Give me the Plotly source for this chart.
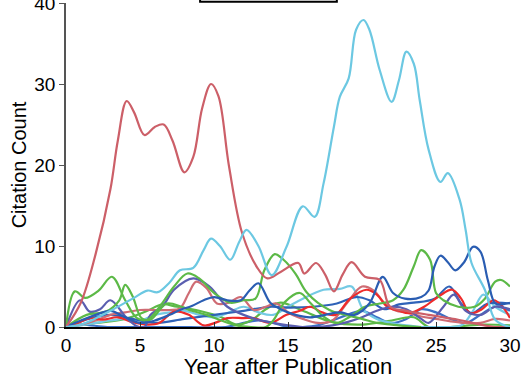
import plotly.graph_objects as go

# Citation counts per year after publication, one curve per paper
years_p01 = [0, 1, 2, 3, 3.5, 4.1, 4.6, 5.3, 6.0, 6.6, 7.2, 8.0, 8.6, 9.2, 9.8, 10.3, 11.0, 11.9, 12.9, 13.6, 14.5, 15.7, 16.1, 16.9, 17.5, 18.1, 18.7, 19.3, 20.2, 21.2, 21.9, 23, 24.5, 26.5, 28, 29, 30]
cites_p01 = [0, 3, 9, 17, 23, 27.9, 26.5, 23.7, 24.7, 25, 23, 19.1, 21, 27, 30, 28.5, 20, 11.6, 7.4, 6.0, 6.8, 7.9, 6.6, 7.9, 6.5, 4.4, 6.5, 8.0, 6.2, 5.8, 2.5, 2.0, 1.5, 0.9, 0.3, 0, 0]

years_p02 = [0, 1, 1.6, 3, 4.5, 5.5, 6.2, 7, 7.7, 8.6, 9.3, 9.8, 10.4, 11.1, 11.7, 12.2, 13, 13.9, 14.9, 16.0, 16.8, 17.4, 18.1, 18.5, 19.1, 19.6, 20.1, 20.5, 21.2, 22.0, 22.5, 23.0, 23.5, 23.9, 24.5, 25.3, 25.8, 26.6, 27.0, 27.4, 28.3, 29, 30]
cites_p02 = [0, 0.3, 0.7, 2.0, 3.5, 4.5, 4.3, 5.5, 7.0, 7.3, 9.5, 10.9, 10, 8.3, 10.5, 12.0, 10, 6.4, 9.9, 14.9, 13.6, 17.7, 24.7, 28.4, 30.7, 36.7, 37.9, 36.7, 31.7, 27.8, 30.5, 34.0, 32.5, 28.0, 21.9, 17.9, 19.0, 15.7, 12, 7.9, 4.6, 0.9, 0]

years_p03 = [0, 0.6, 1.3, 2.2, 3.1, 4.0, 4.8, 5.5, 6.4, 7.3, 8.2, 9.0, 10.0, 11.1, 12.0, 12.8, 13.4, 14.1, 14.7, 15.5, 16.3, 17.8, 18.9, 20.0, 21.0, 22.0, 23.0, 24.0]
cites_p03 = [0, 4.4, 3.6, 4.5, 6.2, 3.3, 1.1, 0.9, 2.7, 5.0, 6.6, 6.0, 4.2, 3.0, 3.3, 3.5, 7.0, 9.0, 8.3, 6.6, 4.2, 2.1, 1.5, 1.0, 0.5, 0.3, 0.1, 0]

years_p04 = [0, 1.4, 2.7, 3.6, 4.0, 4.5, 5.1, 5.7, 6.8, 7.8, 8.5, 9.5, 10.5, 11.5, 12.5, 13.5, 14.0, 14.8, 15.8, 16.5, 17.4, 18.3, 19.2, 20.2, 21.2, 22.1, 22.8, 23.5, 24.0, 24.6, 25.0, 25.5, 26.5, 27.6, 28.3, 29.0, 29.4, 30]
cites_p04 = [0, 1.5, 1.9, 3.3, 5.2, 3.8, 1.1, 0.9, 2.9, 2.5, 2.0, 1.5, 0.8, 0.2, 0, 0, 0.8, 3.1, 4.2, 3.0, 1.3, 0.5, 1.3, 2.5, 2.9, 3.3, 4.6, 7.5, 9.5, 8.3, 4.2, 3.3, 2.5, 2.5, 3.5, 5.6, 5.8, 5.0]

years_p05 = [0, 2, 4, 5.5, 6.5, 7.5, 9, 10.5, 11.5, 12.5, 13.5, 14.5, 16, 18, 20, 22, 23.5, 24.5, 26, 28, 30]
cites_p05 = [0, 0.5, 1, 2, 2.8, 2.5, 2.0, 1.2, 0.3, 0.8, 2.2, 3.0, 2.0, 0.6, 0.3, 0.8, 1.2, 0, 0, 0.3, 0.2]

years_p06 = [0, 0.95, 1.6, 2.3, 3.0, 4.1, 4.8, 5.3, 5.7, 6.5, 7.3, 8.6, 9.7, 10.9, 12.6, 14, 15, 16, 17, 18, 19, 20, 21, 22, 23, 24, 24.5, 25.5, 26.2, 27, 28, 29, 30]
cites_p06 = [0, 3.3, 1.9, 2.2, 3.3, 1.1, 0.1, 0, 1.5, 2.5, 4.6, 6.0, 5.0, 2.5, 1.1, 0.5, 0.2, 0, 0, 0.2, 0.6, 1.2, 2.0, 2.5, 2.2, 1.0, 0.5, 2.5, 4.0, 2.0, 1.5, 2.5, 2.2]

years_p07 = [0, 1, 2, 3, 4, 5, 6, 7, 7.7, 8.5, 9.3, 10, 10.9, 11.8, 12.4, 13.0, 13.8, 14.5, 15.5, 16.5, 17.5, 18.5, 19.5, 20.5, 21.4, 22.1, 22.9, 24.0, 24.5, 24.9, 25.3, 25.8, 26.3, 26.9, 27.5, 28.0, 28.5, 29.0, 29.5, 30]
cites_p07 = [0, 0.8, 1.5, 2.0, 1.2, 0.5, 0.8, 1.5, 2.1, 2.6, 3.3, 3.7, 3.3, 3.3, 4.5, 5.4, 3.0, 2.2, 1.5, 1.2, 1.5, 1.8, 1.5, 2.9, 6.2, 4.2, 3.5, 3.7, 4.5, 7.5, 8.8, 8.0, 7.0, 8.0, 9.9, 9.3, 5.8, 2.9, 2.8, 3.0]

years_p08 = [0, 1.5, 3, 4.5, 6, 8, 10, 12, 13.8, 15, 16.7, 18.3, 19.6, 20.5, 21.5, 22.5, 23.5, 24.9, 25.9, 26.7, 27.4, 28.5, 30]
cites_p08 = [0, 1, 1.5, 1.0, 0.5, 1.0, 1.5, 2.0, 2.5, 2.4, 2.5, 2.9, 3.7, 3.3, 2.2, 2.8, 3.0, 3.5, 5.0, 2.9, 1.7, 2.9, 2.9]

years_p09 = [0, 1, 2.8, 5, 8.4, 10.8, 12, 13, 14, 15, 16, 17, 18, 19, 20, 21, 22, 23, 24, 25, 26, 27, 28, 29, 30]
cites_p09 = [0, 0.3, 0, 0, 0, 0, 0.5, 0.8, 0.5, 0, 0, 0.2, 0.8, 1.5, 2.0, 1.2, 0.5, 1.0, 2.2, 1.8, 1.0, 0.5, 1.5, 2.5, 2.0]

years_p10 = [0, 1, 2, 3, 4, 5, 6, 7, 7.7, 8.3, 8.8, 9.5, 10.2, 11, 11.8, 12.7, 13.5, 14.2, 15.1, 16, 17, 18, 19, 20, 20.8, 21.5, 22.3, 23, 24, 25, 26, 27, 28, 29, 30]
cites_p10 = [0, 0.3, 0.8, 1.5, 1.8, 2.1, 2.1, 2.1, 2.3, 4.2, 5.6, 4.8, 2.9, 3.0, 3.7, 2.1, 2.5, 2.9, 1.7, 1.0, 0.5, 0.8, 3.0, 5.0, 4.5, 3.0, 2.0, 1.8, 1.3, 1.0, 0.7, 0.5, 0.5, 1.0, 0.8]

years_p11 = [0, 0.8, 1.6, 2.5, 3.5, 4.5, 5.5, 6.3, 7.3, 8.3, 9.3, 10.2, 10.9, 12.0, 12.7, 13.8, 14.9, 15.8, 16.5, 17.3, 18.2, 19.2, 20.3, 21.0, 21.7, 22.5, 23.2, 24.2, 25.2, 26.1, 26.7, 27.3, 28.1, 28.9, 29.5, 30]
cites_p11 = [0, 0.5, 1.1, 0.9, 1.2, 0.6, 0.3, 0.5, 1.9, 1.5, 0.2, 0.6, 1.1, 1.1, 1.1, 0.5, 1.5, 2.0, 2.5, 1.8, 1.5, 3.5, 4.6, 4.0, 2.5, 2.0, 1.7, 2.5, 3.8, 4.6, 3.5, 1.7, 2.2, 3.3, 2.5, 1.1]

years_p12 = [0, 1, 2, 3, 4, 5, 6, 7, 8, 9, 10, 11, 12, 13, 14, 15, 16, 17.4, 18.5, 19.3, 20.1, 21, 22, 23, 24, 25, 26, 26.8, 27.5, 28.2, 29, 30]
cites_p12 = [0, 0.2, 0.5, 0.8, 1.0, 0.8, 1.5, 1.8, 2.0, 1.5, 1.2, 1.8, 2.5, 1.8, 1.5, 2.5, 3.5, 4.6, 4.7, 5.0, 2.1, 1.0, 0.5, 0.2, 0.0, 0.0, 0.0, 0.3, 2.0, 4.0, 2.5, 1.5]

papers = [
    (years_p09, cites_p09, "#3b70c6"),
    (years_p05, cites_p05, "#5cb947"),
    (years_p12, cites_p12, "#74cae4"),
    (years_p08, cites_p08, "#2f62b8"),
    (years_p10, cites_p10, "#cf6c74"),
    (years_p11, cites_p11, "#ee2b2b"),
    (years_p06, cites_p06, "#5a5eb0"),
    (years_p04, cites_p04, "#5cb947"),
    (years_p03, cites_p03, "#5cb947"),
    (years_p07, cites_p07, "#2a5db2"),
    (years_p01, cites_p01, "#cc5f68"),
    (years_p02, cites_p02, "#6cc8e2"),
]

x_ticks = [0, 5, 10, 15, 20, 25, 30]
y_ticks = [0, 10, 20, 30, 40]

fig = go.Figure()
for xs, ys, col in papers:
    fig.add_trace(go.Scatter(
        x=xs, y=ys, mode="lines",
        line=dict(color=col, width=2.2, shape="spline", smoothing=1.0),
        showlegend=False, hoverinfo="skip",
    ))

# legend frame sitting above the plot area
fig.add_shape(type="rect", xref="paper", yref="paper",
              x0=0.302, x1=0.610, y0=1.004, y1=1.2,
              line=dict(color="black", width=2), fillcolor="white")

font_family = "Liberation Sans, Arial, sans-serif"
fig.update_layout(
    width=526, height=379,
    margin=dict(l=66, r=16, t=3, b=52),
    paper_bgcolor="white", plot_bgcolor="white",
    font=dict(family=font_family, color="black"),
    xaxis=dict(
        range=[0, 30], tickvals=x_ticks, ticks="inside", ticklen=5,
        tickcolor="#333", showline=True, linecolor="black", linewidth=1.5,
        showgrid=False, zeroline=False, tickfont=dict(size=19),
        ticklabeloverflow="allow", automargin=False,
        title=dict(text="Year after Publication", font=dict(size=22), standoff=5),
    ),
    yaxis=dict(
        range=[0, 40], tickvals=y_ticks, ticks="outside", ticklen=5,
        tickcolor="#555", showline=True, linecolor="#555", linewidth=1.5,
        showgrid=False, zeroline=False, tickfont=dict(size=19),
        ticklabeloverflow="allow", automargin=False,
        title=dict(text="Citation Count", font=dict(size=20), standoff=2),
    ),
)

fig.write_html("out.html")
